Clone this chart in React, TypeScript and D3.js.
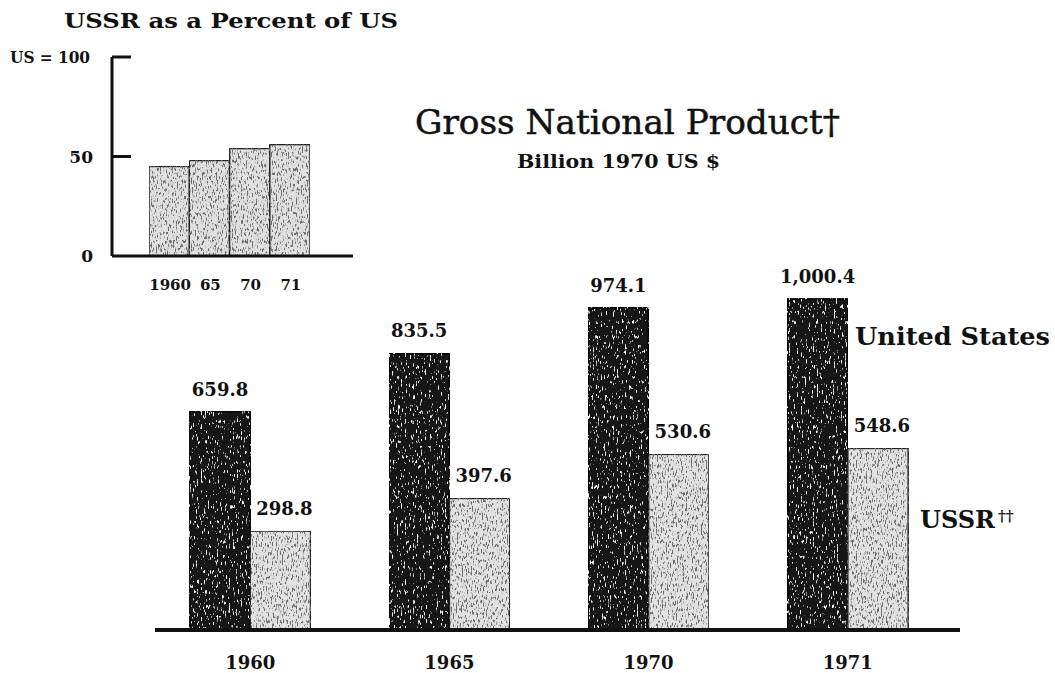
import React from 'react'
import * as d3 from 'd3'

// main chart data (billion 1970 US $)
const years = ['1960', '1965', '1970', '1971']
const usGnp = [659.8, 835.5, 974.1, 1000.4]
const ussrGnp = [298.8, 397.6, 530.6, 548.6]

// inset: USSR as percent of US
const insetYears = ['1960', '65', '70', '71']
const insetPct = [45, 48, 54, 56]
const insetTicks = [0, 50, 100]

const W = 1055
const H = 673
const FONT = "'DejaVu Serif', serif"

const App = () => {
  // main scales
  const x = d3.scaleBand<string>()
    .domain(years)
    .range([150, 948])
    .paddingInner(0.394)
    .paddingOuter(0.2)
  const xInner = d3.scaleBand<string>()
    .domain(['us', 'ussr'])
    .range([0, x.bandwidth()])
  const y = d3.scaleLinear().domain([0, 1000]).range([630, 299])
  const fmt = d3.format(',.1f')

  // inset scales
  const xi = d3.scaleBand<string>().domain(insetYears).range([149, 310])
  const yi = d3.scaleLinear().domain([0, 100]).range([256, 57])
  const tickLabel = (v: number) => (v === 100 ? 'US = 100' : String(v))

  return (
    <svg width={W} height={H} viewBox={`0 0 ${W} ${H}`}
      style={{ display: 'block', position: 'absolute', left: 0, top: 0, background: '#fff' }}>
      <defs>
        <filter id="grainDark" x="0" y="0" width="1" height="1">
          <feTurbulence type="fractalNoise" baseFrequency="0.75 0.2" numOctaves="2" seed="4" result="noise" />
          <feColorMatrix in="noise" type="matrix"
            values="0 0 0 0 1  0 0 0 0 1  0 0 0 0 1  9 0 0 0 -5.7" result="spots" />
          <feComposite in="spots" in2="SourceGraphic" operator="in" result="clipped" />
          <feMerge>
            <feMergeNode in="SourceGraphic" />
            <feMergeNode in="clipped" />
          </feMerge>
        </filter>
        <filter id="grainLight" x="0" y="0" width="1" height="1">
          <feTurbulence type="fractalNoise" baseFrequency="0.8 0.25" numOctaves="2" seed="9" result="noise" />
          <feColorMatrix in="noise" type="matrix"
            values="0 0 0 0 0.15  0 0 0 0 0.15  0 0 0 0 0.15  8 0 0 0 -4.3" result="spots" />
          <feComposite in="spots" in2="SourceGraphic" operator="in" result="clipped" />
          <feMerge>
            <feMergeNode in="SourceGraphic" />
            <feMergeNode in="clipped" />
          </feMerge>
        </filter>
      </defs>

      {/* inset chart */}
      <text x={64} y={28} fontFamily={FONT} fontWeight="bold" fontSize={21}
        textLength={334} lengthAdjust="spacingAndGlyphs" fill="#111">
        USSR as a Percent of US
      </text>
      {insetPct.map((v, i) => (
        <rect key={insetYears[i]}
          x={xi(insetYears[i])} y={yi(v)}
          width={xi.bandwidth()} height={yi(0) - yi(v)}
          fill="#e0e0e0" stroke="#222" strokeWidth={1.5}
          filter="url(#grainLight)" />
      ))}
      <line x1={112} x2={112} y1={yi(100)} y2={yi(0)} stroke="#111" strokeWidth={3} />
      <line x1={112} x2={353} y1={yi(0)} y2={yi(0)} stroke="#111" strokeWidth={3} />
      {insetTicks.filter(t => t > 0).map(t => (
        <line key={t} x1={112} x2={131} y1={yi(t)} y2={yi(t)} stroke="#111" strokeWidth={3} />
      ))}
      {insetTicks.map(t => (
        <text key={t} x={t === 100 ? 10 : 93} y={yi(t) + 6}
          textAnchor={t === 100 ? 'start' : 'end'}
          fontFamily={FONT} fontWeight="bold" fontSize={17} fill="#111"
          textLength={t === 100 ? 80 : undefined}
          lengthAdjust={t === 100 ? 'spacingAndGlyphs' : undefined}>
          {tickLabel(t)}
        </text>
      ))}
      {insetYears.map(yr => (
        <text key={yr} x={(xi(yr) as number) + xi.bandwidth() / 2 + 1} y={290}
          textAnchor="middle" fontFamily={FONT} fontWeight="bold" fontSize={15} fill="#111">
          {yr}
        </text>
      ))}

      {/* titles */}
      <text x={415} y={134} fontFamily={FONT} fontSize={33}
        textLength={425} lengthAdjust="spacingAndGlyphs" fill="#111"
        stroke="#111" strokeWidth={0.5}>
        Gross National Product†
      </text>
      <text x={517} y={168} fontFamily={FONT} fontWeight="bold" fontSize={19}
        textLength={203} lengthAdjust="spacingAndGlyphs" fill="#111">
        Billion 1970 US $
      </text>

      {/* main bars */}
      {years.map((yr, i) => {
        const x0 = x(yr) as number
        const xu = x0 + (xInner('us') as number)
        const xs = x0 + (xInner('ussr') as number)
        const bw = xInner.bandwidth()
        return (
          <g key={yr}>
            <rect x={xu} y={y(usGnp[i])} width={bw} height={y(0) - y(usGnp[i])}
              fill="#121212" stroke="#000" strokeWidth={1.5} filter="url(#grainDark)" />
            <rect x={xs} y={y(ussrGnp[i])} width={bw} height={y(0) - y(ussrGnp[i])}
              fill="#e2e2e2" stroke="#222" strokeWidth={1.5} filter="url(#grainLight)" />
            <text x={xu + bw / 2} y={y(usGnp[i]) - 16} textAnchor="middle"
              fontFamily={FONT} fontWeight="bold" fontSize={18} fill="#111">
              {fmt(usGnp[i])}
            </text>
            <text x={xs + bw / 2 + 4} y={y(ussrGnp[i]) - 16} textAnchor="middle"
              fontFamily={FONT} fontWeight="bold" fontSize={18} fill="#111">
              {fmt(ussrGnp[i])}
            </text>
            <text x={x0 + x.bandwidth() / 2} y={669} textAnchor="middle"
              fontFamily={FONT} fontWeight="bold" fontSize={18} fill="#111">
              {yr}
            </text>
          </g>
        )
      })}
      <line x1={155} x2={960} y1={y(0)} y2={y(0)} stroke="#111" strokeWidth={4} />

      {/* series labels */}
      <text x={855} y={345} fontFamily={FONT} fontSize={24} fontWeight="bold"
        textLength={195} lengthAdjust="spacingAndGlyphs" fill="#111">
        United States
      </text>
      <text x={920} y={528} fontFamily={FONT} fontSize={24} fontWeight="bold" fill="#111">
        USSR<tspan fontSize={15} dy={-7} dx={3}>††</tspan>
      </text>
    </svg>
  )
}

export default App
